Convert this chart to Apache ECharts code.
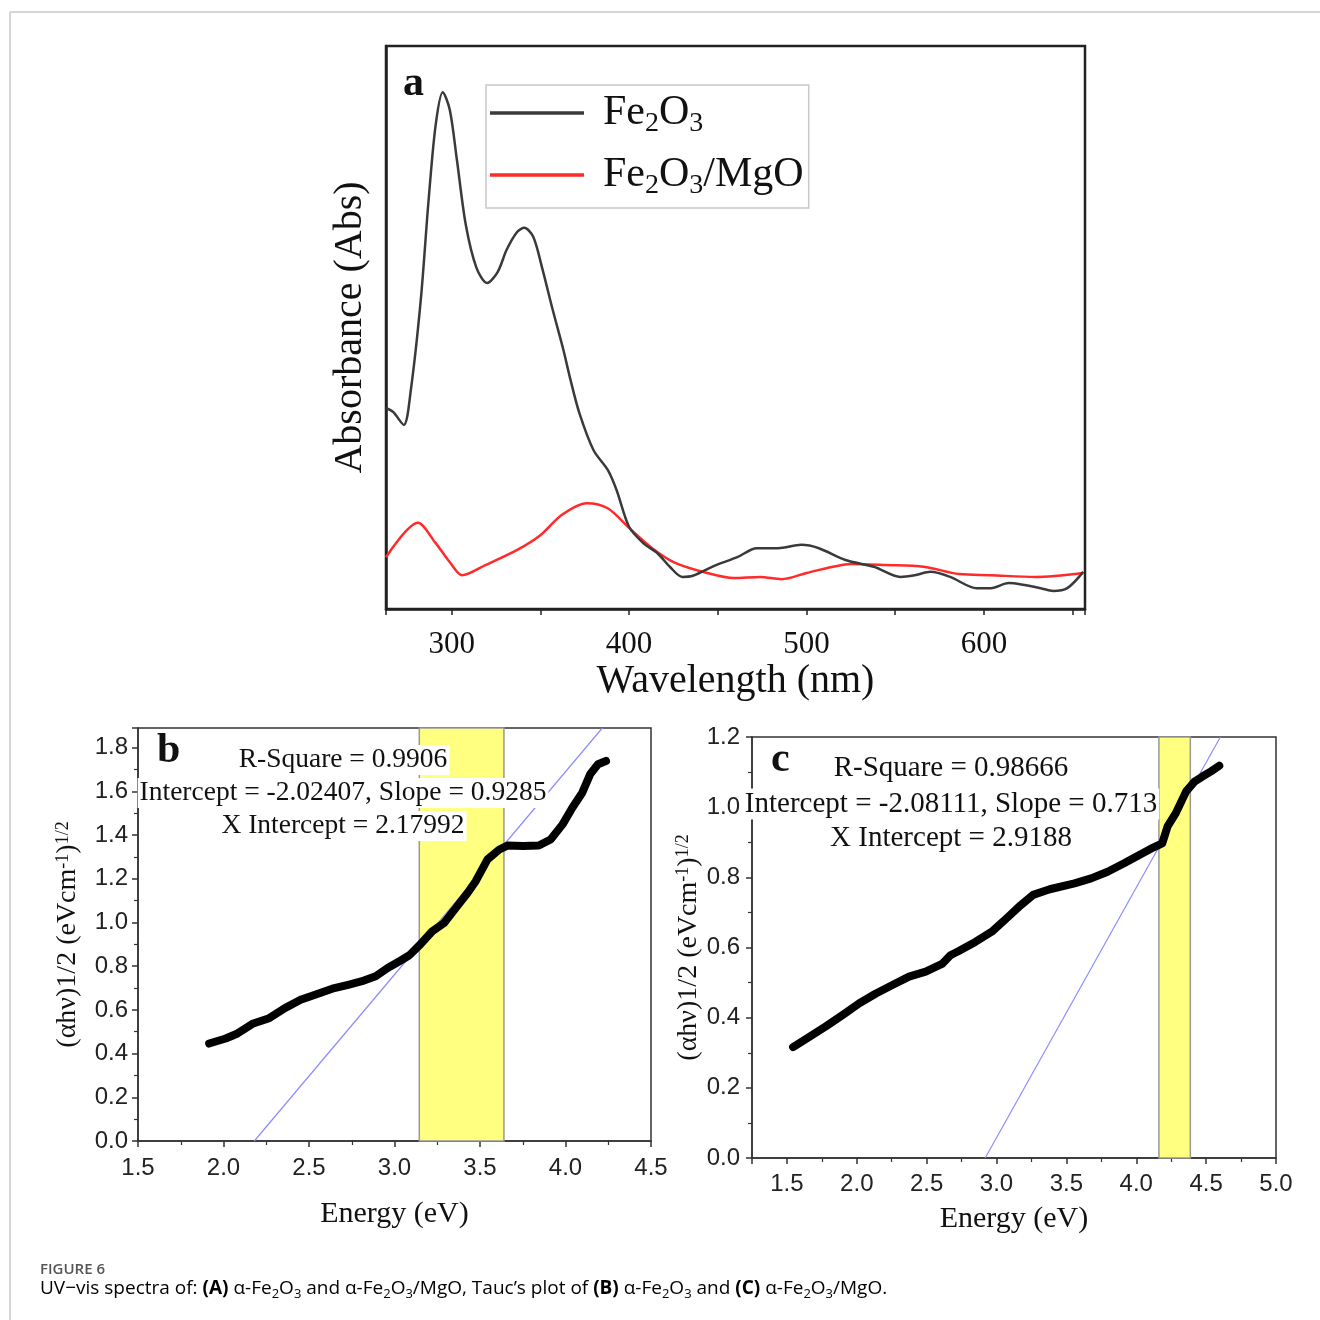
<!DOCTYPE html>
<html>
<head>
<meta charset="utf-8">
<script src="https://cdn.jsdelivr.net/npm/echarts@6/dist/echarts.min.js"></script>
<style>
  html, body { margin: 0; padding: 0; background: #fff; }
  #chart { width: 1320px; height: 1320px; }
</style>
</head>
<body>
<div id="chart"></div>
<script>
// ---- (a) UV-vis absorbance spectra ----
const fe2o3Wavelength = [263,267,273,277,282.6,287,291,295,299,303,308,314,320,326,331,337,341,346,351,357,363,367,372,380,388,393,400,408,416,423,430,436,449,461,472,484,497,507,522,538,553,561,570,581,596,604,614,622,632,639,647,656];
const fe2o3Abs = [0.357,0.350,0.327,0.389,0.549,0.726,0.860,0.918,0.886,0.797,0.682,0.606,0.579,0.599,0.638,0.670,0.677,0.661,0.606,0.531,0.460,0.407,0.348,0.282,0.247,0.211,0.146,0.117,0.099,0.075,0.057,0.059,0.078,0.092,0.108,0.108,0.114,0.108,0.087,0.075,0.057,0.060,0.066,0.057,0.037,0.037,0.046,0.043,0.037,0.032,0.037,0.066];
const mgoWavelength = [263,281,291,299,306,319,337,350,362,376,388,400,413,426,444,459,474,486,500,515,525,545,566,586,604,629,656];
const mgoAbs = [0.092,0.153,0.117,0.083,0.060,0.078,0.105,0.131,0.167,0.188,0.179,0.144,0.108,0.082,0.064,0.055,0.057,0.053,0.064,0.075,0.080,0.078,0.075,0.062,0.060,0.057,0.064];
const wavelengthRange = [263, 657];

// ---- (b) Tauc plot, Fe2O3 ----
const taucFeEnergy = [1.916,2.013,2.082,2.174,2.267,2.359,2.451,2.544,2.636,2.729,2.821,2.890,2.960,3.029,3.087,3.145,3.221,3.290,3.359,3.428,3.475,3.544,3.613,3.660,3.752,3.844,3.913,3.983,4.040,4.098,4.144,4.190,4.237];
const taucFeValue = [0.446,0.469,0.492,0.538,0.562,0.608,0.646,0.672,0.697,0.715,0.734,0.754,0.792,0.823,0.850,0.895,0.960,0.998,1.067,1.136,1.189,1.289,1.334,1.352,1.350,1.352,1.380,1.449,1.525,1.594,1.678,1.724,1.739];
const taucFeBand = [3.145, 3.64];
const fitFeRSquare = '0.9906';
const fitFeIntercept = -2.02407;
const fitFeSlope = 0.9285;
const fitFeXIntercept = '2.17992';
const taucFeYMax = 1.89;

// ---- (c) Tauc plot, Fe2O3/MgO ----
const taucMgEnergy = [1.544,1.663,1.781,1.900,2.018,2.137,2.255,2.374,2.493,2.610,2.670,2.730,2.848,2.966,3.085,3.174,3.262,3.381,3.558,3.677,3.795,3.913,4.032,4.121,4.186,4.224,4.283,4.357,4.417,4.476,4.535,4.594];
const taucMgValue = [0.316,0.346,0.376,0.408,0.441,0.469,0.493,0.517,0.531,0.553,0.578,0.590,0.616,0.645,0.688,0.721,0.750,0.766,0.783,0.797,0.816,0.840,0.866,0.885,0.897,0.945,0.983,1.045,1.073,1.088,1.102,1.118];
const taucMgBand = [4.162, 4.387];
const fitMgRSquare = '0.98666';
const fitMgIntercept = -2.08111;
const fitMgSlope = 0.713;
const fitMgXIntercept = '2.9188';
const taucMgYMax = 1.2;
const taucMgXRange = [1.25, 5.0];

// ---- helpers ----
const SERIF = '"Liberation Serif", "Times New Roman", serif';
const SANS = '"Liberation Sans", Arial, sans-serif';
const CAPTION = '"Open Sans", "Noto Sans", sans-serif';
const pairs = (xs, ys) => xs.map((x, i) => [x, ys[i]]);
// straight fit line from the x-intercept up to the top of the plot
const fitLine = (b, m, yTop) => [[-b / m, 0], [(yTop - b) / m, yTop]];
const fmt = v => String(v);
const oneDecimal = v => v.toFixed(1);

const supRich = {
  sup: { fontFamily: SERIF, fontSize: 18, lineHeight: 16, verticalAlign: 'top', color: '#111' }
};
const taucYName = '(αhν)1/2 (eVcm{sup|-1}){sup|1/2}';

function taucXAxis(gridIndex, extra) {
  return Object.assign({
    gridIndex, type: 'value',
    axisLine: { show: true, lineStyle: { color: '#333', width: 1.5 } },
    axisTick: { show: true, inside: false, length: 6, lineStyle: { color: '#333', width: 1.5 } },
    minorTick: { show: true, splitNumber: 2, length: 4, lineStyle: { color: '#333', width: 1.2 } },
    splitLine: { show: false },
    name: 'Energy (eV)', nameLocation: 'middle',
    nameTextStyle: { fontFamily: SERIF, fontSize: 30, color: '#111' }
  }, extra);
}
function taucYAxis(gridIndex, extra) {
  return Object.assign({
    gridIndex, type: 'value', min: 0,
    axisLine: { show: true, lineStyle: { color: '#333', width: 1.5 } },
    axisTick: { show: true, inside: false, length: 6, lineStyle: { color: '#333', width: 1.5 } },
    minorTick: { show: true, splitNumber: 2, length: 4, lineStyle: { color: '#333', width: 1.2 } },
    splitLine: { show: false },
    name: taucYName, nameLocation: 'middle',
    nameTextStyle: { fontFamily: SERIF, fontSize: 28, color: '#111', rich: supRich }
  }, extra);
}

const annotation = (x, y, text, size) => ({
  type: 'text', x, y, z: 100, silent: true,
  style: {
    text, fontFamily: SERIF, fontSize: size, fill: '#111',
    align: 'center', verticalAlign: 'middle',
    textAlign: 'center', textVerticalAlign: 'middle',
    backgroundColor: '#fff', padding: [1, 2]
  }
});
const panelLetter = (x, y, text) => ({
  type: 'text', x, y, z: 100, silent: true,
  style: { text, fontFamily: SERIF, fontSize: 42, fontWeight: 'bold', fill: '#111', verticalAlign: 'middle', textVerticalAlign: 'middle' }
});

const chemRich = {
  t: { fontFamily: SERIF, fontSize: 42, color: '#111', lineHeight: 50 },
  s: { fontFamily: SERIF, fontSize: 28, color: '#111', lineHeight: 10, verticalAlign: 'bottom' },
  g: { width: 14 }
};

const captionRich = {
  n: { fontFamily: CAPTION, fontSize: 19, color: '#555', lineHeight: 24 },
  b: { fontFamily: CAPTION, fontSize: 19, fontWeight: 'bold', color: '#555', lineHeight: 24 },
  s: { fontFamily: CAPTION, fontSize: 13, color: '#555', lineHeight: 16, verticalAlign: 'bottom' }
};
const fe2o3Caption = '{n|α-Fe}{s|2}{n|O}{s|3}';
const captionText = '{n|UV−vis spectra of: }{b|(A)}{n| }' + fe2o3Caption + '{n| and }' + fe2o3Caption +
  '{n|/MgO, Tauc’s plot of }{b|(B)}{n| }' + fe2o3Caption + '{n| and }{b|(C)}{n| }' + fe2o3Caption + '{n|/MgO.}';

const chart = echarts.init(document.getElementById('chart'), null, { renderer: 'canvas' });

chart.setOption({
  backgroundColor: '#fff',
  animation: false,
  grid: [
    { left: 386, top: 46, width: 699, height: 563, show: true, borderColor: '#222', borderWidth: 2.5, containLabel: false, outerBoundsMode: 'none' },
    { left: 138, top: 728, width: 513, height: 413, show: true, borderColor: '#333', borderWidth: 1.5, containLabel: false, outerBoundsMode: 'none' },
    { left: 752, top: 737, width: 524, height: 421, show: true, borderColor: '#333', borderWidth: 1.5, containLabel: false, outerBoundsMode: 'none' }
  ],
  legend: {
    left: 486, top: 85, orient: 'vertical',
    data: [
      { name: 'Fe2O3', icon: 'rect' },
      { name: 'Fe2O3/MgO', icon: 'rect' }
    ],
    itemWidth: 94, itemHeight: 3.5, itemGap: 16,
    padding: [7, 5, 8, 4],
    borderColor: '#c8c8c8', borderWidth: 1.5,
    textStyle: { rich: chemRich },
    formatter: name => name === 'Fe2O3'
      ? '{g|}{t|Fe}{s|2}{t|O}{s|3}'
      : '{g|}{t|Fe}{s|2}{t|O}{s|3}{t|/MgO}'
  },
  xAxis: [
    {
      gridIndex: 0, type: 'value', min: wavelengthRange[0], max: wavelengthRange[1], splitNumber: 4,
      axisLine: { show: true, lineStyle: { color: '#222', width: 2.5 } },
      axisTick: { show: true, inside: false, length: 6, lineStyle: { color: '#222', width: 1.5 } },
      minorTick: { show: true, splitNumber: 2, length: 6, lineStyle: { color: '#222', width: 1.5 } },
      splitLine: { show: false },
      axisLabel: { fontFamily: SERIF, fontSize: 31, color: '#111', margin: 20, showMinLabel: false, showMaxLabel: false },
      name: 'Wavelength (nm)', nameLocation: 'middle', nameGap: 52,
      nameTextStyle: { fontFamily: SERIF, fontSize: 40, color: '#111' }
    },
    taucXAxis(1, { min: 1.5, max: 4.5, interval: 0.5, nameGap: 58,
      axisLabel: { fontFamily: SANS, fontSize: 24, color: '#222', margin: 15, formatter: oneDecimal } }),
    taucXAxis(2, { min: taucMgXRange[0], max: taucMgXRange[1], splitNumber: 7, nameGap: 46,
      axisLabel: { fontFamily: SANS, fontSize: 24, color: '#222', margin: 14, showMinLabel: false, formatter: oneDecimal } })
  ],
  yAxis: [
    {
      gridIndex: 0, type: 'value', min: 0, max: 1,
      axisLine: { show: true, lineStyle: { color: '#222', width: 2.5 } },
      axisTick: { show: false }, axisLabel: { show: false }, splitLine: { show: false },
      name: 'Absorbance (Abs)', nameLocation: 'middle', nameGap: 16,
      nameTextStyle: { fontFamily: SERIF, fontSize: 40, color: '#111' }
    },
    taucYAxis(1, { max: taucFeYMax, splitNumber: 9, nameGap: 56,
      axisLabel: { fontFamily: SANS, fontSize: 24, color: '#222', margin: 10, showMaxLabel: false, formatter: oneDecimal } }),
    taucYAxis(2, { max: taucMgYMax, interval: 0.2, nameGap: 48,
      axisLabel: { fontFamily: SANS, fontSize: 24, color: '#222', margin: 12, formatter: oneDecimal } })
  ],
  series: [
    {
      name: 'Fe2O3', type: 'line', xAxisIndex: 0, yAxisIndex: 0,
      data: pairs(fe2o3Wavelength, fe2o3Abs), smooth: 0.3, symbol: 'none',
      lineStyle: { color: '#3a3a3a', width: 2.5 }, itemStyle: { color: '#3a3a3a' }, z: 3
    },
    {
      name: 'Fe2O3/MgO', type: 'line', xAxisIndex: 0, yAxisIndex: 0,
      data: pairs(mgoWavelength, mgoAbs), smooth: 0.3, symbol: 'none',
      lineStyle: { color: '#ff2a2a', width: 2.5 }, itemStyle: { color: '#ff2a2a' }, z: 2
    },
    {
      name: 'fitFe', type: 'line', xAxisIndex: 1, yAxisIndex: 1,
      data: fitLine(fitFeIntercept, fitFeSlope, taucFeYMax), symbol: 'none', silent: true,
      lineStyle: { color: '#8c8cff', width: 1.2 }, z: 2,
      markArea: {
        silent: true,
        itemStyle: { color: '#ffff80', borderColor: '#999', borderWidth: 1.5 },
        data: [[{ xAxis: taucFeBand[0] }, { xAxis: taucFeBand[1] }]]
      }
    },
    {
      name: 'taucFe', type: 'line', xAxisIndex: 1, yAxisIndex: 1,
      data: pairs(taucFeEnergy, taucFeValue), symbol: 'none',
      lineStyle: { color: '#000', width: 8, cap: 'round', join: 'round' }, z: 3
    },
    {
      name: 'fitMg', type: 'line', xAxisIndex: 2, yAxisIndex: 2,
      data: fitLine(fitMgIntercept, fitMgSlope, taucMgYMax), symbol: 'none', silent: true,
      lineStyle: { color: '#8c8cff', width: 1.2 }, z: 2,
      markArea: {
        silent: true,
        itemStyle: { color: '#ffff80', borderColor: '#999', borderWidth: 1.5 },
        data: [[{ xAxis: taucMgBand[0] }, { xAxis: taucMgBand[1] }]]
      }
    },
    {
      name: 'taucMg', type: 'line', xAxisIndex: 2, yAxisIndex: 2,
      data: pairs(taucMgEnergy, taucMgValue), symbol: 'none',
      lineStyle: { color: '#000', width: 8, cap: 'round', join: 'round' }, z: 3
    }
  ],
  graphic: [
    { type: 'line', silent: true, shape: { x1: 10, y1: 12, x2: 1320, y2: 12 }, style: { stroke: '#d6d6d6', lineWidth: 2 } },
    { type: 'line', silent: true, shape: { x1: 10, y1: 12, x2: 10, y2: 1320 }, style: { stroke: '#d6d6d6', lineWidth: 2 } },
    panelLetter(403, 84, 'a'),
    panelLetter(157, 751, 'b'),
    panelLetter(771, 760, 'c'),
    annotation(343, 760, 'R-Square = ' + fitFeRSquare, 27.5),
    annotation(343, 793, 'Intercept = ' + fmt(fitFeIntercept) + ', Slope = ' + fmt(fitFeSlope), 27.5),
    annotation(343, 826, 'X Intercept = ' + fitFeXIntercept, 27.5),
    annotation(951, 768, 'R-Square = ' + fitMgRSquare, 29),
    annotation(951, 804, 'Intercept = ' + fmt(fitMgIntercept) + ', Slope = ' + fmt(fitMgSlope), 29),
    annotation(951, 838, 'X Intercept = ' + fitMgXIntercept, 29),
    {
      type: 'text', x: 40, y: 1270, silent: true,
      style: { text: 'FIGURE 6', fontFamily: CAPTION, fontSize: 15, fontWeight: 600, fill: '#555', verticalAlign: 'middle', textVerticalAlign: 'middle' }
    },
    {
      type: 'text', x: 40, y: 1289, silent: true,
      style: { text: captionText, rich: captionRich, verticalAlign: 'middle', textVerticalAlign: 'middle' }
    }
  ]
});
</script>
</body>
</html>
